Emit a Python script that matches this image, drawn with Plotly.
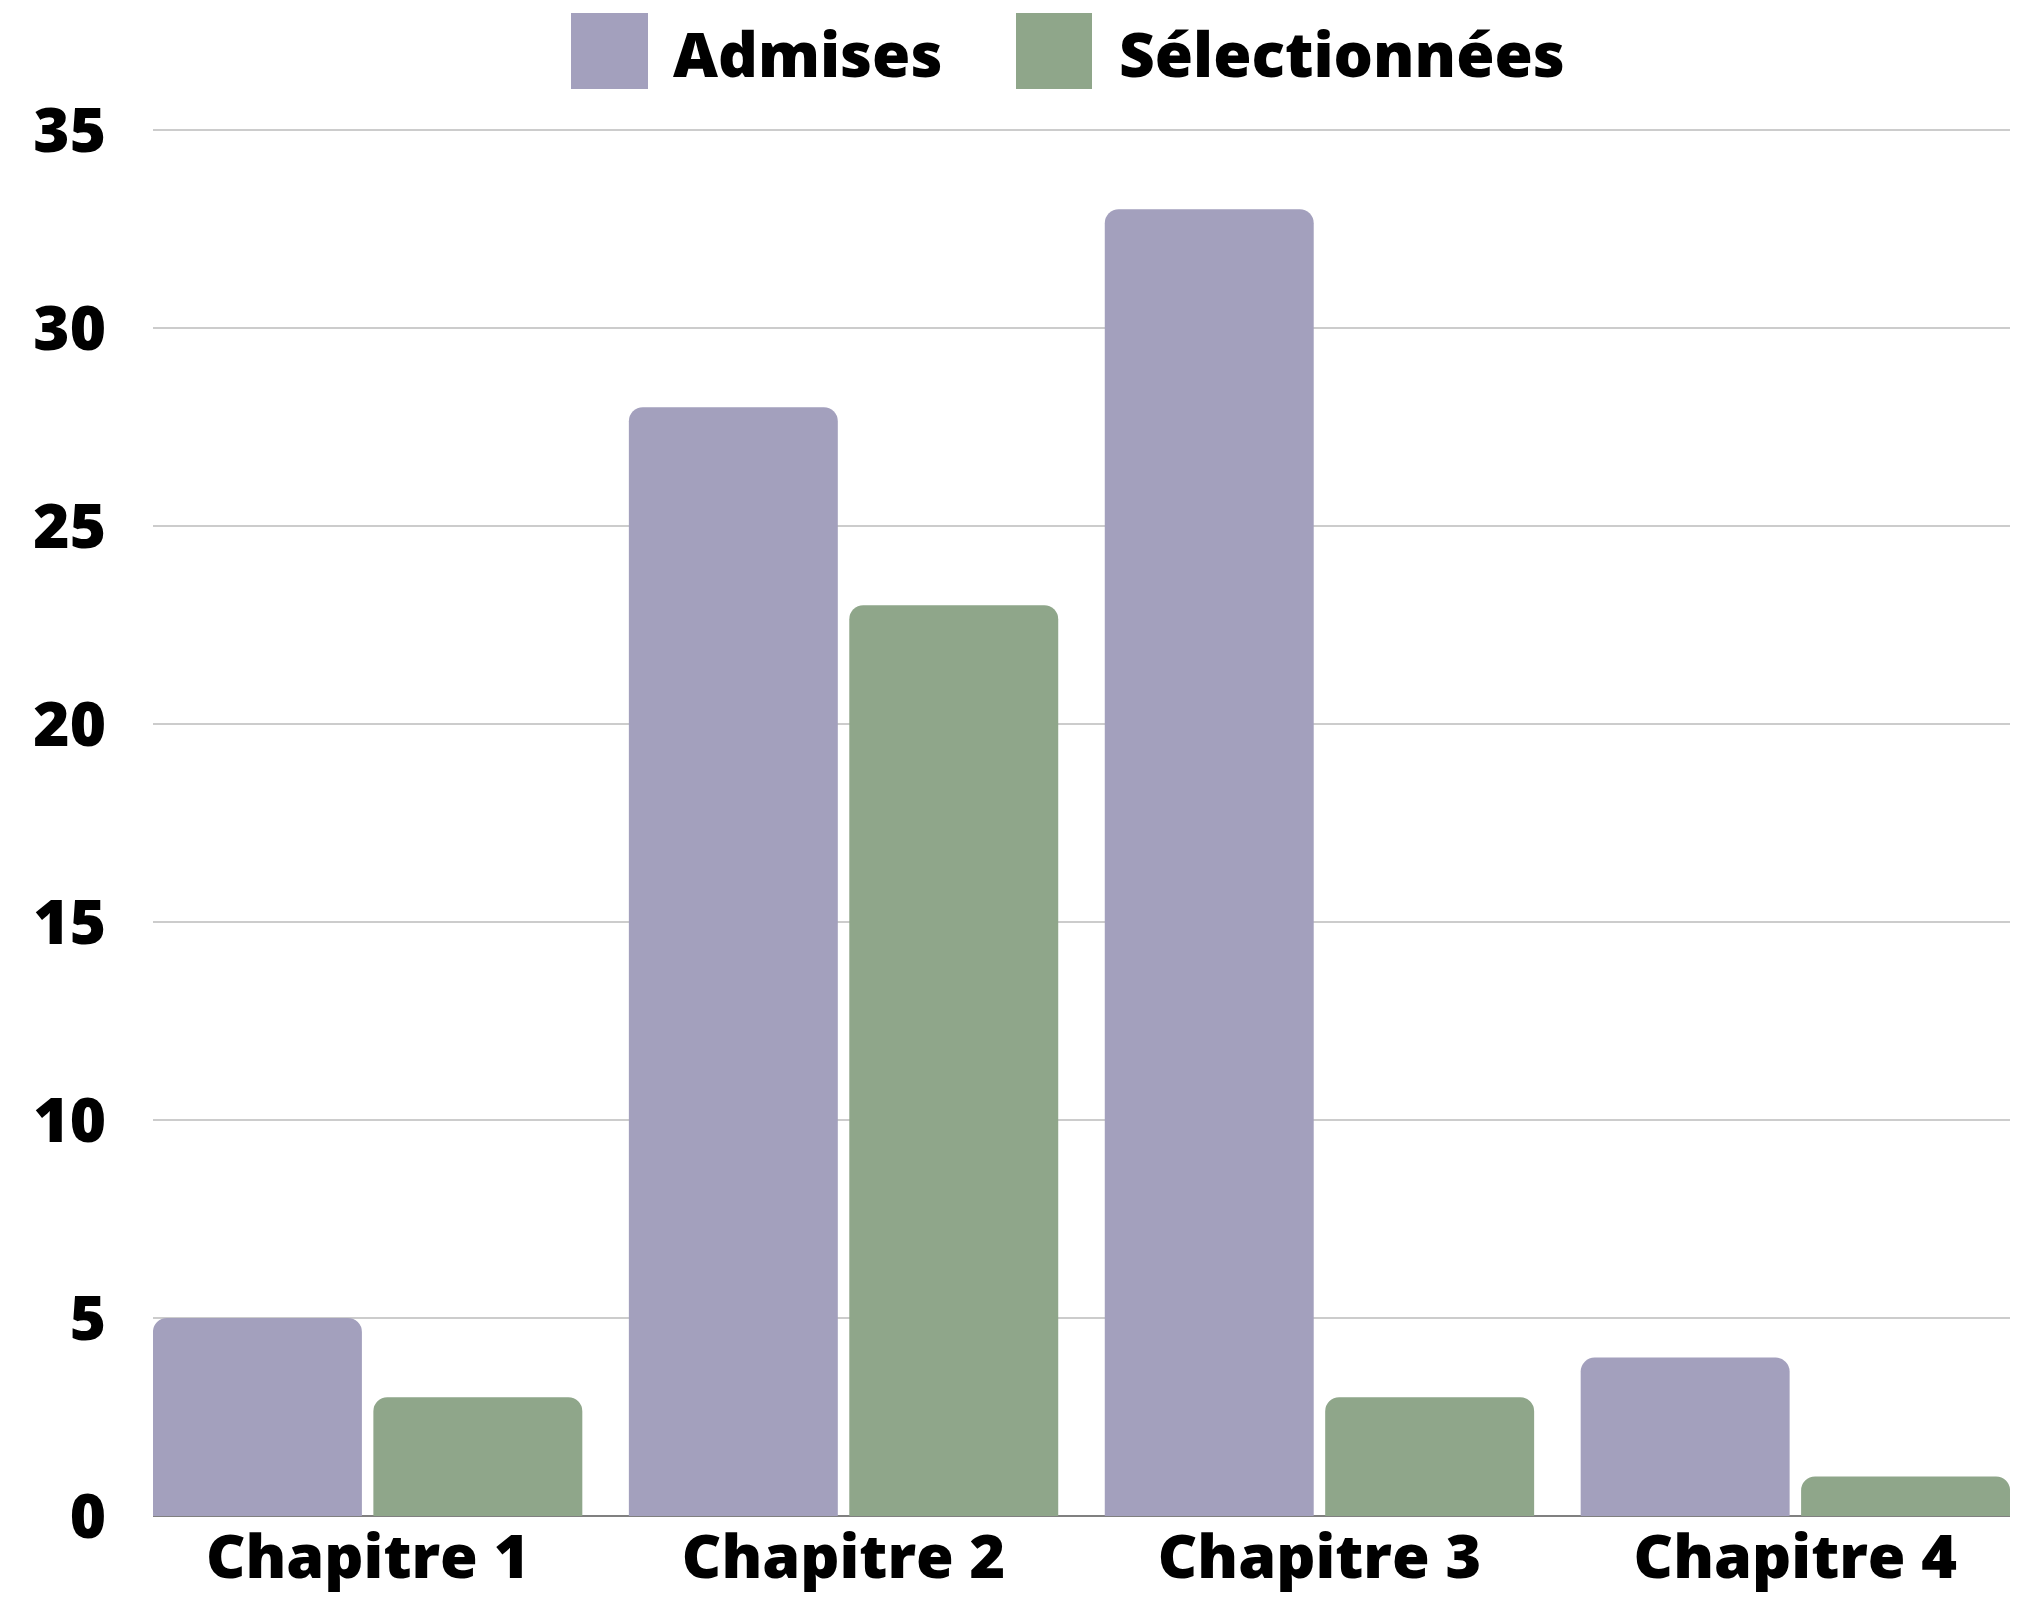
import plotly.graph_objects as go

categories = ["Chapitre 1", "Chapitre 2", "Chapitre 3", "Chapitre 4"]
admises = [5, 28, 33, 4]
selectionnees = [3, 23, 3, 1]
series_names = ["Admises", "Sélectionnées"]
y_ticks = [0, 5, 10, 15, 20, 25, 30, 35]

PURPLE = "#a3a0bd"
GREEN = "#8fa68a"
FONT = dict(family="Open Sans", size=62, color="#000000", weight=800)
XFONT = dict(family="Open Sans", size=61, color="#000000", weight=800)

# page body has an 8px margin, so the figure is offset by 8px
OFF = 8
W, H = 2010, 1604
L, R, T, B = 145, 8, 120, 96
pw = W - L - R
ph = H - T - B

def px_x(x):
    return (x - OFF - L) / pw

def px_y(y):
    return (H - B - (y - OFF)) / ph

fig = go.Figure()
fig.add_trace(go.Bar(x=categories, y=admises, name=series_names[0],
                     marker=dict(color=PURPLE, cornerradius=14, line=dict(width=0)),
                     showlegend=False))
fig.add_trace(go.Bar(x=categories, y=selectionnees, name=series_names[1],
                     marker=dict(color=GREEN, cornerradius=14, line=dict(width=0)),
                     showlegend=False))

# manual legend (large squares as in the reference)
legend_items = [
    (series_names[0], PURPLE, 571, 648, 671),
    (series_names[1], GREEN, 1016, 1092, 1117),
]
for name, col, x0, x1, tx in legend_items:
    fig.add_shape(type="rect", xref="paper", yref="paper",
                  x0=px_x(x0), x1=px_x(x1), y0=px_y(89), y1=px_y(13),
                  fillcolor=col, line=dict(width=0), layer="above")
    fig.add_annotation(text=name, xref="paper", yref="paper",
                       x=px_x(tx), y=px_y(53), xanchor="left", yanchor="middle",
                       showarrow=False, font=FONT)

fig.update_layout(
    width=W, height=H,
    margin=dict(l=L, r=R, t=T, b=B, pad=0, autoexpand=False),
    paper_bgcolor="white", plot_bgcolor="white",
    barmode="group", bargap=0.0737, bargroupgap=0.052,
    font=FONT,
    showlegend=False,
)
fig.update_xaxes(range=[-0.451, 3.451], showgrid=False, showline=False, automargin=False,
                 tickfont=XFONT, ticks="")
fig.update_yaxes(range=[0, 35.05], tickvals=y_ticks, showgrid=True, gridcolor="#cccccc",
                 gridwidth=2, zeroline=True, zerolinecolor="#808080", zerolinewidth=2,
                 showline=False, automargin=False, tickfont=FONT, ticklabelstandoff=46)

fig.write_html("out.html")
